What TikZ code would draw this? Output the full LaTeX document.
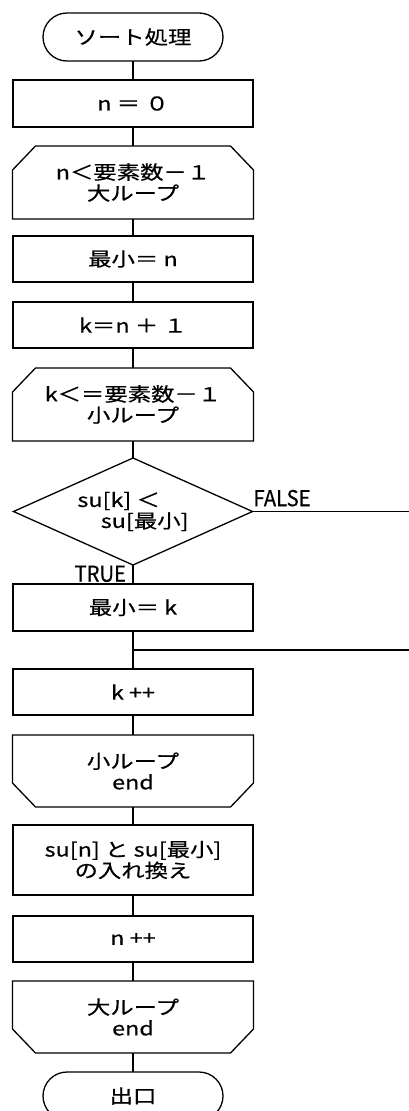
\documentclass[tikz,border=0pt]{standalone}
\usepackage{fontspec}
\setmainfont{Noto Sans CJK JP}[FakeStretch=1.23,FakeBold=0.5]
\newfontfamily\lblfont{Noto Sans CJK JP}[FakeStretch=0.92,FakeBold=0.5]
\usetikzlibrary{calc,shapes.misc,shapes.geometric}

%loop limit outlines (open side cut at top / bottom)
\newcommand{\loopopen}[1]{\draw (#1.south west) -- ($(#1.north west)+(0,24)$) -- ($(#1.north west)+(23,0)$) -- ($(#1.north east)+(-23,0)$) -- ($(#1.north east)+(0,24)$) -- (#1.south east) -- cycle;}
\newcommand{\loopclose}[1]{\draw (#1.north west) -- ($(#1.south west)+(0,-24)$) -- ($(#1.south west)+(23,0)$) -- ($(#1.south east)+(-23,0)$) -- ($(#1.south east)+(0,-24)$) -- (#1.north east) -- cycle;}

\begin{document}
\begin{tikzpicture}[x=1pt,y=-1pt,line width=1.3pt,
	every node/.style={font=\fontsize{19}{21}\selectfont,align=center,inner sep=0pt,outer sep=0pt},
	term/.style={draw,rounded rectangle,minimum width=180pt,minimum height=48pt},
	proc/.style={draw,rectangle,minimum width=240pt,minimum height=#1},
	proc/.default=47pt,
	loopbox/.style={rectangle,minimum width=241pt,minimum height=73pt},
	cond/.style={draw,diamond,aspect=2.23,minimum width=239pt,minimum height=107pt,align=left},
	lbl/.style={font=\lblfont\fontsize{22}{24}\selectfont}]
	
	\clip (0,0) rectangle (409,1111);
	
	%main column
	\node[term] 		(start) at (133,37) 	{ソート処理};
	\node[proc] 		(init)  at (133,103.5) 	{n ＝ ０};
	\node[loopbox] 		(L1) 	at (133,182.5) 	{n＜要素数－１\\大ループ};
	\node[proc=46pt] 	(minn)  at (133,259) 	{最小＝ n};
	\node[proc=46pt] 	(kinit) at (133,325) 	{k＝n ＋ １};
	\node[loopbox] 		(L2) 	at (133,404.5) 	{k＜＝要素数－１\\小ループ};
	\node[cond] 		(cmp) 	at (133,511.5) 	{su[k] ＜\\　su[最小]};
	\node[proc] 		(mink)  at (133,607.5) 	{最小＝ k};
	\node[proc=46pt] 	(kinc)  at (133,692) 	{k ++};
	\node[loopbox,minimum height=72pt] (L2e) at (133,771) {小ループ\\end};
	\node[proc=70pt] 	(swap)  at (133,860) 	{su[n] と su[最小]\\の入れ換え};
	\node[proc=46pt] 	(ninc)  at (133,939) 	{n ++};
	\node[loopbox,minimum height=72pt] (L1e) at (133,1017) {大ループ\\end};
	\node[term] 		(exit)  at (133,1096) 	{出口};
	
	%loop outlines
	\loopopen{L1}
	\loopopen{L2}
	\loopclose{L2e}
	\loopclose{L1e}
	
	%branch ends (run off the right edge)
	\coordinate (j) 	at (133,650);
	\coordinate (jend) 	at (409,650);
	\coordinate (fend) 	at (409,511.5);
	
	%connectors
	\draw (start) -- (init);
	\draw (init) -- (L1);
	\draw (L1) -- (minn);
	\draw (minn) -- (kinit);
	\draw (kinit) -- (L2);
	\draw (L2) -- (cmp);
	\draw (cmp) -- (mink);
	\draw (mink) -- (kinc);
	\draw (kinc) -- (L2e);
	\draw (L2e) -- (swap);
	\draw (swap) -- (ninc);
	\draw (ninc) -- (L1e);
	\draw (L1e) -- (exit);
	\draw (cmp.east) -- (fend);
	\draw (j) -- (jend);
	
	%branch labels
	\node[lbl,anchor=south west] (false) at ($(cmp.east)+(1,-5)$) {FALSE};
	\node[lbl,anchor=south east] (true)  at ($(mink.north)+(-7,-2)$) {TRUE};
	
\end{tikzpicture}
\end{document}
